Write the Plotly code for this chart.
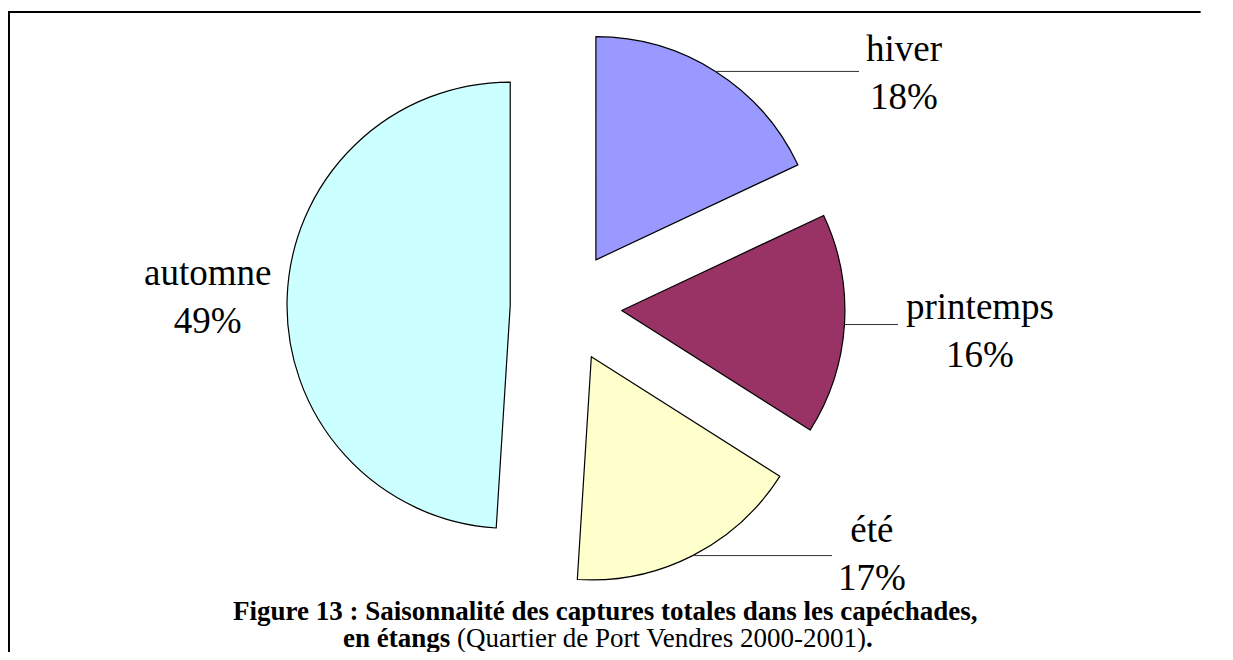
import math

import plotly.graph_objects as go

# Seasonal share of total catches (%)
seasons = ["hiver", "printemps", "été", "automne"]
shares = [18, 16, 17, 49]
slice_colors = ["#9999FF", "#993366", "#FFFFCC", "#CCFFFF"]

# The page body has an 8px margin, so the figure starts 8px in
OFF = 8
W, H = 1233 - 2 * OFF, 660 - 2 * OFF
PULL = 0.25
SERIF = "Liberation Serif, Times New Roman, serif"


def px(sx):
    return (sx - OFF) / W


def py(sy):
    return 1 - (sy - OFF) / H


# pie box in screen pixels
dom_x = [px(287), px(845)]
dom_y = [py(586), py(28)]

# label placement (screen px): centre of each two-line label, end of its leader
label_pos = {
    "hiver": (904, 73, 859),
    "printemps": (980, 330, 898),
    "été": (872, 553, 832),
    "automne": (207, 296, None),
}

fig = go.Figure(
    go.Pie(
        labels=seasons,
        values=shares,
        sort=False,
        direction="clockwise",
        rotation=0,
        pull=[PULL] * len(shares),
        marker={"colors": slice_colors, "line": {"color": "#000000", "width": 1.2}},
        textinfo="none",
        hoverinfo="label+percent",
        domain={"x": dom_x, "y": dom_y},
        showlegend=False,
    )
)

# pie geometry, same rule plotly uses to size the pie in its box
box_w = W * (dom_x[1] - dom_x[0])
box_h = H * (dom_y[1] - dom_y[0])
r = min(box_w, box_h) / 2 / (1 + PULL)
cx = W * (dom_x[0] + dom_x[1]) / 2
cy = H * (1 - (dom_y[0] + dom_y[1]) / 2)

total = sum(shares)
cum = 0
annotations = []
shapes = []
for name, v in zip(seasons, shares):
    mid = 2 * math.pi * (cum + v / 2) / total
    cum += v
    lx, ly, lend = label_pos[name]
    pct = round(100 * v / total)
    annotations.append(
        dict(
            x=px(lx), y=py(ly), xref="paper", yref="paper",
            text=f"{name}<br>{pct}%", showarrow=False,
            xanchor="center", yanchor="middle",
            font={"family": SERIF, "size": 37, "color": "#000000"},
        )
    )
    if lend is not None:
        ax = cx + r * (1 + PULL) * math.sin(mid)
        ay = cy - r * (1 + PULL) * math.cos(mid)
        shapes.append(
            dict(
                type="line", xref="paper", yref="paper",
                x0=ax / W, y0=1 - ay / H, x1=px(lend), y1=1 - ay / H,
                line={"color": "#333333", "width": 1},
            )
        )

# caption
annotations.append(
    dict(
        x=px(605), y=py(611), xref="paper", yref="paper",
        text="<b>Figure 13 : Saisonnalité des captures totales dans les capéchades,</b>",
        showarrow=False, xanchor="center", yanchor="middle",
        font={"family": SERIF, "size": 27, "color": "#000000"},
    )
)
annotations.append(
    dict(
        x=px(608), y=py(638), xref="paper", yref="paper",
        text="<b>en étangs</b> (Quartier de Port Vendres 2000-2001)<b>.</b>",
        showarrow=False, xanchor="center", yanchor="middle",
        font={"family": SERIF, "size": 27, "color": "#000000"},
    )
)

# document frame: top and left edges as separate strokes
shapes.append(dict(type="line", xref="paper", yref="paper", x0=0.0008, x1=0.0008, y0=0, y1=py(12),
                   line={"color": "#000000", "width": 2}))
shapes.append(dict(type="line", xref="paper", yref="paper", x0=0, x1=0.98, y0=py(12), y1=py(12),
                   line={"color": "#000000", "width": 2}))

fig.update_layout(
    width=W,
    height=H,
    margin={"l": 0, "r": 0, "t": 0, "b": 0},
    paper_bgcolor="#ffffff",
    plot_bgcolor="#ffffff",
    annotations=annotations,
    shapes=shapes,
)

fig.write_html("out.html")
